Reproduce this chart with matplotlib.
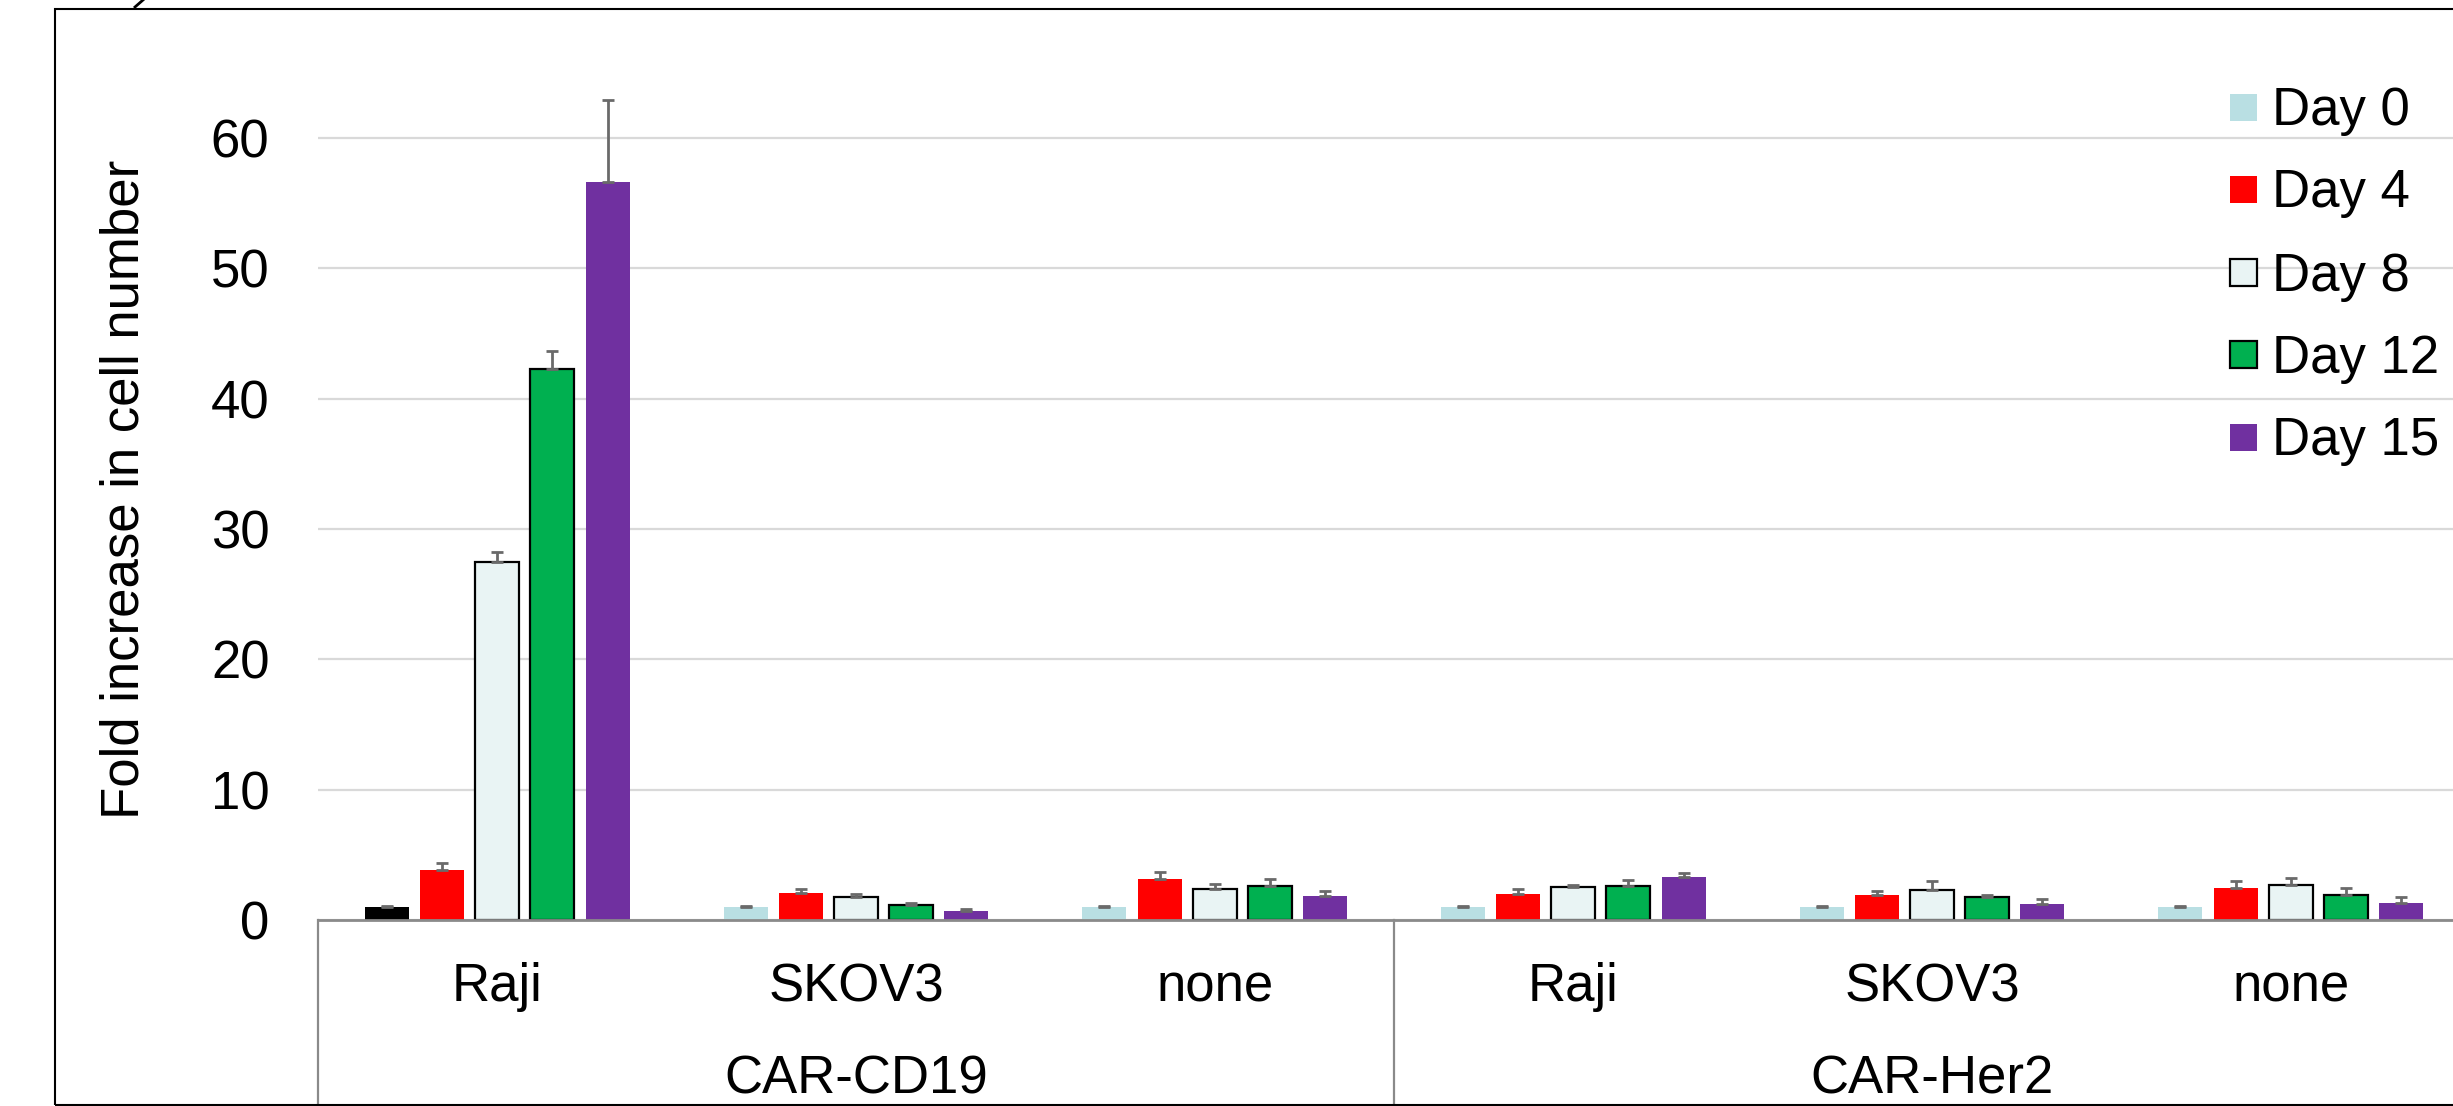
import matplotlib
matplotlib.use("Agg")
import matplotlib.pyplot as plt
from matplotlib.patches import Rectangle
from matplotlib.lines import Line2D
import numpy as np

plt.rcParams['font.family'] = ['Liberation Sans', 'DejaVu Sans']

# ---- data ----
days = ['Day 0', 'Day 4', 'Day 8', 'Day 12', 'Day 15']
targets = ['Raji', 'SKOV3', 'none', 'Raji', 'SKOV3', 'none']
constructs = ['CAR-CD19', 'CAR-Her2']

day0 = [1.0, 1.0, 1.0, 1.0, 1.0, 1.0]
day4 = [3.85, 2.1, 3.15, 2.0, 1.95, 2.45]
day8 = [27.45, 1.78, 2.35, 2.55, 2.33, 2.72]
day12 = [42.3, 1.18, 2.6, 2.6, 1.75, 1.88]
day15 = [56.65, 0.72, 1.82, 3.32, 1.25, 1.3]

err0 = [0.05, 0.05, 0.05, 0.05, 0.05, 0.05]
err4 = [0.55, 0.3, 0.5, 0.35, 0.3, 0.55]
err8 = [0.75, 0.25, 0.4, 0.12, 0.64, 0.54]
err12 = [1.35, 0.12, 0.54, 0.46, 0.18, 0.56]
err15 = [6.25, 0.15, 0.38, 0.28, 0.36, 0.5]

yticks = [0, 10, 20, 30, 40, 50, 60]

values = [day0, day4, day8, day12, day15]
errors = [err0, err4, err8, err12, err15]

# ---- styling ----
fills = ['#B9DFE3', '#FF0000', '#E9F4F4', '#00B050', '#7030A0']
edges = ['none', 'none', 'black', 'black', 'none']
fs = 38

W, H = 2453, 1106
fig = plt.figure(figsize=(W / 100, H / 100), dpi=100)

ax_left, ax_bottom = 318 / W, 186 / H
ax_w, ax_h = 2152 / W, 860.2 / H
ax = fig.add_axes([ax_left, ax_bottom, ax_w, ax_h])

x = np.arange(len(targets))
pitch, bw = 0.1536, 0.1227
for i, (vals, errs) in enumerate(zip(values, errors)):
    pos = x + (i - 2) * pitch
    colors = [fills[i]] * len(targets)
    if i == 0:
        colors[0] = 'black'  # CAR-CD19 / Raji baseline bar
    ax.bar(pos, vals, width=bw, color=colors,
           edgecolor=edges[i], linewidth=1.6 if edges[i] != 'none' else 0,
           zorder=3)
    ax.errorbar(pos, vals, yerr=[np.zeros(len(vals)), errs], fmt='none',
                ecolor='#6A6A6A', elinewidth=2.0, capsize=4.3,
                capthick=2.0, zorder=4)

ax.set_xlim(-0.5, len(targets) - 0.5)
ax.set_ylim(0, 66)
ax.set_yticks(yticks)
ax.set_yticklabels([str(t) for t in yticks], fontsize=fs)
ax.tick_params(axis='y', length=0, pad=35)
ax.set_xticks([])
ax.yaxis.grid(True, color='#D9D9D9', linewidth=1.6, zorder=0)
ax.set_axisbelow(True)
for s in ['left', 'right', 'top']:
    ax.spines[s].set_visible(False)
ax.spines['bottom'].set_color('#8A8A8A')
ax.spines['bottom'].set_linewidth(2.0)
ax.spines['bottom'].set_zorder(5)

# multi-level category labels
tr = ax.get_xaxis_transform()
for xi, name in zip(x, targets):
    ax.text(xi, -81 / 860.2, name, transform=tr, ha='center', va='baseline',
            fontsize=fs)
for gi, name in enumerate(constructs):
    ax.text(gi * 3 + 1, -174 / 860.2, name, transform=tr, ha='center',
            va='baseline', fontsize=fs)
for sep in [-0.5, 2.5, 5.5]:
    ax.plot([sep, sep], [0, -186 / 860.2], transform=tr, color='#8A8A8A',
            linewidth=1.6, clip_on=False)

# y axis title
fig.text(125 / W, (H - 489) / H, 'Fold increase in cell number',
         rotation=90, ha='center', va='center', fontsize=fs)

# legend
row_centers = [107, 189, 272, 354, 437]
box = 27
for i, (lab, yc) in enumerate(zip(days, row_centers)):
    fig.patches.append(Rectangle((2230 / W, (H - yc - box / 2) / H),
                                 box / W, box / H, transform=fig.transFigure,
                                 facecolor=fills[i],
                                 edgecolor=edges[i] if edges[i] != 'none' else fills[i],
                                 linewidth=1.6 if edges[i] != 'none' else 0))
    fig.text(2272 / W, (H - yc - 18.5) / H, lab, ha='left', va='baseline',
             fontsize=fs)

# outer chart border
fig.patches.append(Rectangle((55 / W, 1 / H), 2.0, (H - 10) / H,
                             transform=fig.transFigure, fill=False,
                             edgecolor='black', linewidth=1.5))
# tail of the panel mark above the border
fig.lines.append(Line2D([135 / W, 143 / W], [1 - 7 / H, 1.0],
                        transform=fig.transFigure, color='black',
                        linewidth=2.0))

fig.savefig('out.png', dpi=100)
